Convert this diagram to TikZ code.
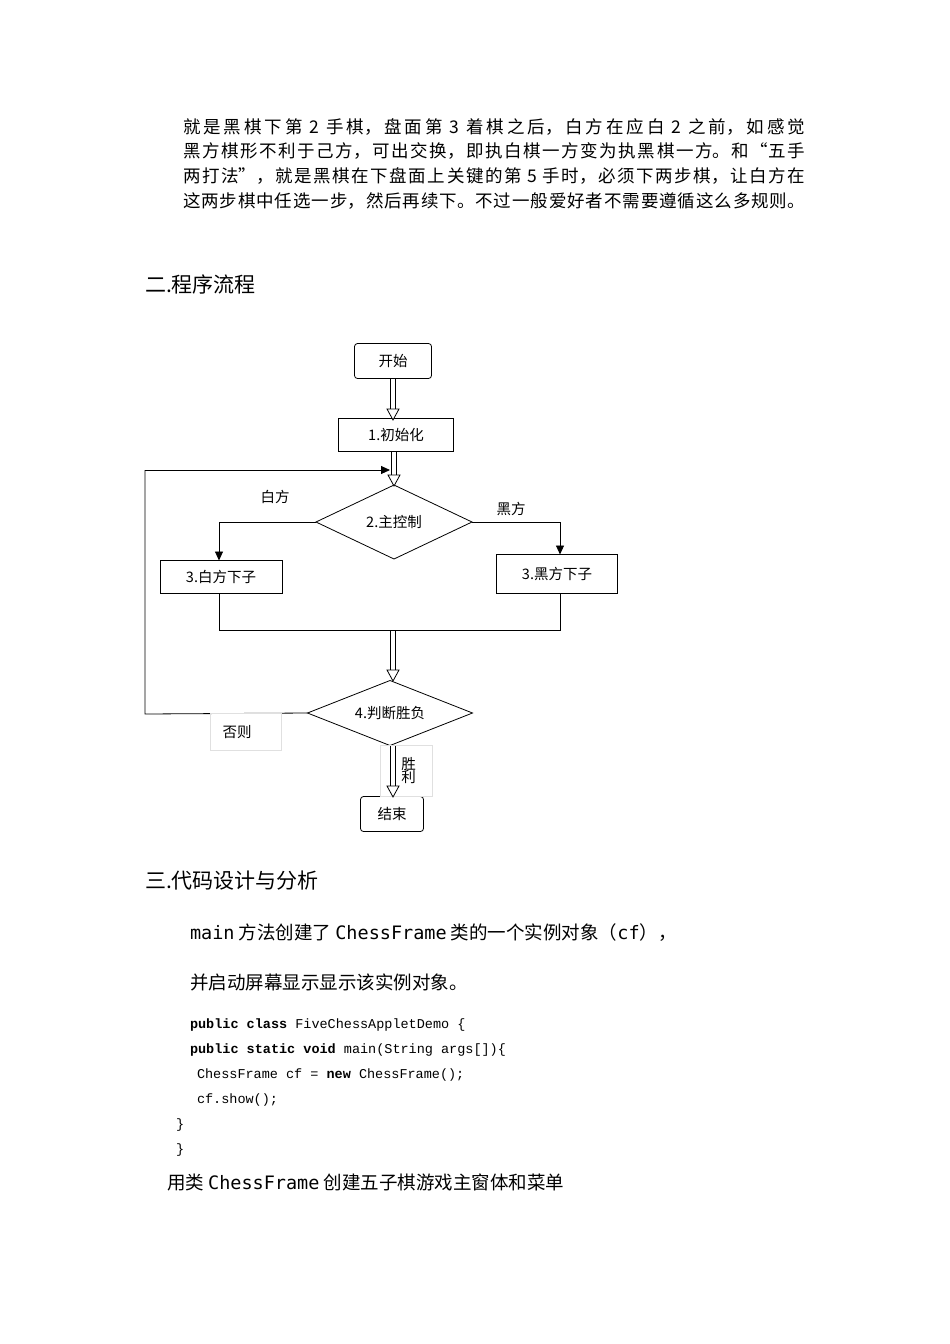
\documentclass[tikz,border=0pt]{standalone}
\usepackage{fontspec}
\setmainfont{Noto Sans CJK SC}
\newfontfamily\codefont{Liberation Mono}
\newfontfamily\dvm{DejaVu Sans Mono}
\XeTeXlinebreaklocale "zh"
\XeTeXlinebreakskip=0pt plus 2pt
\usetikzlibrary{arrows.meta,shapes.geometric}
\newcommand\dblar[2]{%
  \draw[line width=0.8pt] ([xshift=-2.5pt]#1) -- ([xshift=-2.5pt,yshift=10pt]#2);
  \draw[line width=0.8pt] ([xshift=2.5pt]#1) -- ([xshift=2.5pt,yshift=10pt]#2);
  \draw[line width=0.8pt,fill=white] ([xshift=-6pt,yshift=11pt]#2) -- (#2) -- ([xshift=6pt,yshift=11pt]#2) -- cycle;}
\newcommand\jline[1]{\parbox{622pt}{\parfillskip=0pt #1}}
\begin{document}
\begin{tikzpicture}[x=1pt,y=-1pt,
  every node/.style={inner sep=0pt,outer sep=0pt},
  body/.style={anchor=west,font=\fontsize{17.5}{18}\selectfont},
  head/.style={anchor=west,font=\fontsize{21}{24}\selectfont},
  fc/.style={draw,line width=0.8pt,font=\fontsize{14.5}{16}\selectfont},
  rbox/.style={fc,rounded corners=3pt,minimum width=77pt,minimum height=35pt},
  sbox/.style={fc,minimum height=33pt},
  dia/.style={fc,diamond,aspect=2.1},
  thk/.style={line width=0.9pt,-{Triangle[length=9pt,width=8pt]}},
  ln/.style={line width=0.8pt},
  code/.style={anchor=west,font=\codefont\fontsize{13.5}{15}\selectfont},
  lbl/.style={font=\fontsize{14.5}{16}\selectfont}]
\useasboundingbox[fill=white] (0,0) rectangle (950,1344);
\node[body] (p1) at (183,127) {\jline{就是黑棋下第 2 手棋，盘面第 3 着棋之后，白方在应白 2 之前，如感觉}};
\node[body] (p2) at (183,151) {\jline{黑方棋形不利于己方，可出交换，即执白棋一方变为执黑棋一方。和“五手}};
\node[body] (p3) at (183,176) {\jline{两打法”，就是黑棋在下盘面上关键的第 5 手时，必须下两步棋，让白方在}};
\node[body] (p4) at (183,201) {\jline{这两步棋中任选一步，然后再续下。不过一般爱好者不需要遵循这么多规则。}};
\node[head] (h2) at (145,284) {二.程序流程};
% flowchart
\node[rbox] (start) at (393,361) {开始};
\node[sbox,minimum width=115pt] (init) at (396,435) {1.初始化};
\node[dia,minimum width=156pt,minimum height=74pt] (ctrl) at (394,522) {2.主控制};
\node[sbox,minimum width=122pt] (wb) at (221,577) {3.白方下子};
\node[sbox,minimum width=121pt,minimum height=39pt] (bb) at (557,574) {3.黑方下子};
\node[dia,minimum width=165pt,minimum height=65pt] (judge) at (390,713) {4.判断胜负};
\node[rbox,minimum width=63pt] (end) at (392,814) {结束};
\coordinate (loopA) at (145,714);
\coordinate (loopB) at (145,470);
\coordinate (loopT) at (390,470);
\coordinate (wl) at (219,522);
\coordinate (bl) at (560,522);
\coordinate (wd) at (219,630);
\coordinate (bd) at (560,630);
\coordinate (mj) at (393,630);
\coordinate (s1) at (393,379);
\coordinate (e1) at (393,420);
\coordinate (s2) at (394,451);
\coordinate (e2) at (394,486);
\coordinate (e3) at (393,681);
\coordinate (s4) at (393,746);
\coordinate (e4) at (393,797);
\dblar{s1}{e1}
\dblar{s2}{e2}
\draw[ln] (ctrl.west) -- (wl);
\draw[thk] (wl) -- (wl |- wb.north);
\draw[ln] (ctrl.east) -- (bl);
\draw[thk] (bl) -- (bl |- bb.north);
\draw[ln] (wl |- wb.south) -- (wd) -- (bd) -- (bl |- bb.south);
\dblar{mj}{e3}
\draw[ln] (judge.west) -- (loopA) -- (loopB);
\draw[thk] (loopB) -- (loopT);
\node[lbl] (wlab) at (275,497) {白方};
\node[lbl] (blab) at (511,509) {黑方};
\node[lbl,draw=black!12,minimum width=71pt,minimum height=37pt] (other) at (246,732) {\hspace*{-18pt}否则};
\node[lbl,draw=black!12,minimum width=52pt,minimum height=51pt] (win) at (406,771) {\hspace*{5pt}\parbox{15pt}{\centering 胜\\[-3pt]利}};
\dblar{s4}{e4}
\node[head] (h3) at (145,881) {三.代码设计与分析};
\node[body,font=\fontsize{18.5}{20}\selectfont] (t1) at (190,933) {{\dvm main} 方法创建了 {\dvm ChessFrame} 类的一个实例对象（{\dvm cf}），};
\node[body,font=\fontsize{18.5}{20}\selectfont] (t2) at (190,982) {并启动屏幕显示显示该实例对象。};
\node[code] (c1) at (190,1025) {\textbf{public class} FiveChessAppletDemo \{};
\node[code] (c2) at (190,1050) {\textbf{public static void} main(String args[])\{};
\node[code] (c3) at (197,1075) {ChessFrame cf = \textbf{new} ChessFrame();};
\node[code] (c4) at (197,1100) {cf.show();};
\node[code] (c5) at (176,1125) {\}};
\node[code] (c6) at (176,1150) {\}};
\node[body,font=\fontsize{18.5}{20}\selectfont] (t3) at (167,1182) {用类 {\dvm ChessFrame} 创建五子棋游戏主窗体和菜单};
\end{tikzpicture}
\end{document}
